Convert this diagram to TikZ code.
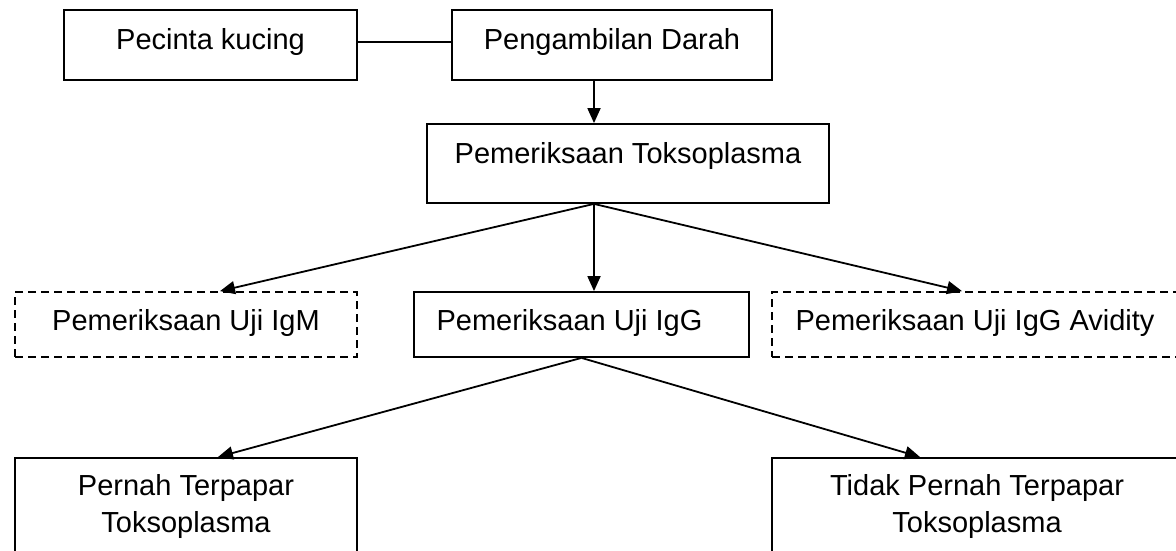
\documentclass[tikz,border=0pt]{standalone}
\usepackage{fontspec}
\setmainfont{Liberation Sans}
\usetikzlibrary{arrows.meta}
\begin{document}
\begin{tikzpicture}[x=1pt,y=-1pt,
  box/.style={draw, line width=1.8pt, inner sep=0pt, font=\fontsize{29}{37}\selectfont, text height=20pt},
  dbox/.style={box, dash pattern=on 8pt off 5pt},
  lbl/.style={inner sep=0pt, font=\fontsize{29}{37}\selectfont},
  conn/.style={line width=1.8pt},
  arr/.style={conn, -{Triangle[length=15pt,width=13pt]}}]
\useasboundingbox (0,0) rectangle (1176,551);
\clip (0,0) rectangle (1176,551);
% row 1
\node[box, minimum width=293pt, minimum height=70pt, text depth=10pt] (pecinta) at (210.5,45) {Pecinta kucing};
\node[box, minimum width=320pt, minimum height=70pt, text depth=10pt] (ambil) at (612,45) {Pengambilan Darah};
% row 2
\node[box, minimum width=402pt, minimum height=79pt, text depth=21pt] (tokso) at (628,163.5) {Pemeriksaan Toksoplasma};
% row 3
\node[dbox, minimum width=342pt, minimum height=65pt, text depth=8pt] (igm) at (186,324.5) {Pemeriksaan Uji IgM};
\node[box, minimum width=335pt, minimum height=65pt, text depth=8pt] (igg) at (581.5,324.5) {Pemeriksaan Uji IgG\hspace*{24pt}};
\node[dbox, minimum width=406pt, minimum height=65pt, text depth=8pt] (avid) at (975,324.5) {Pemeriksaan Uji IgG Avidity};
% row 4
\node[box, minimum width=342pt, minimum height=150pt, anchor=north] (pernah) at (186,457) {};
\node[lbl, anchor=base] (pernahA) at ([yshift=-38pt]pernah.north) {Pernah Terpapar};
\node[lbl, anchor=base] (pernahB) at ([yshift=-75pt]pernah.north) {Toksoplasma};
\node[box, minimum width=410pt, minimum height=150pt, anchor=north] (tidak) at (977,457) {};
\node[lbl, anchor=base] (tidakA) at ([yshift=-38pt]tidak.north) {Tidak Pernah Terpapar};
\node[lbl, anchor=base] (tidakB) at ([yshift=-75pt]tidak.north) {Toksoplasma};
% connectors
\draw[conn] ([yshift=3pt]pecinta.east) -- ([yshift=3pt]ambil.west);
\draw[arr] ([xshift=-18pt]ambil.south) -- ([xshift=-18pt]ambil.south |- tokso.north);
\coordinate (tb) at ([xshift=-34pt]tokso.south);
\draw[arr] (tb) -- ([xshift=34pt]igm.north);
\draw[arr] (tb) -- (tb |- igg.north);
\draw[arr] (tb) -- ([xshift=-13pt]avid.north);
\coordinate (gb) at (igg.south);
\draw[arr] (gb) -- ([xshift=32pt]pernah.north);
\draw[arr] (gb) -- ([xshift=-57pt]tidak.north);
\end{tikzpicture}
\end{document}
